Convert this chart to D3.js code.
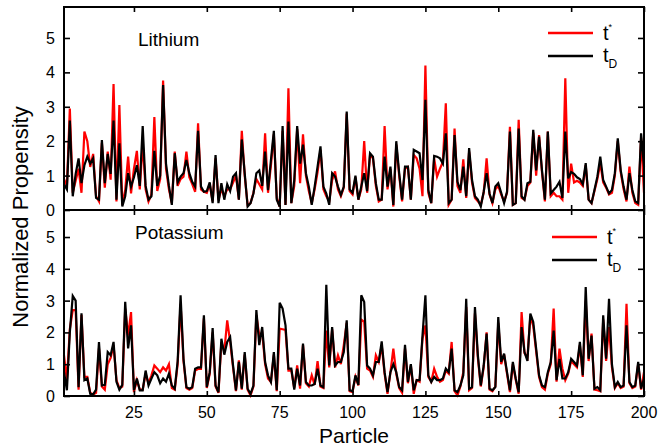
<!DOCTYPE html>
<html>
<head>
<meta charset="utf-8">
<script src="https://cdn.jsdelivr.net/npm/d3@7"></script>
<style>
  body { margin: 0; background: #fff; }
  text { font-family: "Liberation Sans", Arial, sans-serif; fill: #000; }
</style>
</head>
<body>
<div id="chart"></div>
<script>
const width = 667;
const height = 448;

// Lithium (top panel)
const liTD = [
  0.75, 0.6, 2.6, 0.4, 1.05, 1.5, 0.78, 1.3, 1.55, 1.35,
  1.5, 0.35, 0.3, 2.03, 0.78, 1.63, 1.05, 2.6, 0.3, 1.94,
  0.1, 0.4, 1.07, 0.68, 0.95, 1.3, 0.7, 2.44, 0.7, 0.3,
  0.4, 1.72, 0.7, 1.0, 3.63, 1.35, 0.7, 0.15, 1.65, 0.8,
  0.97, 1.07, 1.45, 1.07, 0.82, 0.68, 2.3, 0.68, 0.53, 0.55,
  0.8, 0.2, 1.6, 0.2, 0.78, 0.3, 0.75, 0.55, 0.97, 1.07,
  0.3, 2.05, 1.07, 0.1, 0.2, 0.48, 1.07, 1.15, 0.7, 1.7,
  0.58, 1.45, 2.3, 0.3, 0.1, 2.44, 0.15, 2.57, 0.2, 0.87,
  2.44, 1.35, 1.9, 1.07, 0.68, 0.15, 0.68, 1.26, 1.85, 0.68,
  0.48, 0.15, 1.07, 0.97, 0.68, 0.44, 0.68, 2.86, 0.6, 0.5,
  1.0, 0.3, 0.68, 1.07, 0.55, 1.65, 1.55, 0.78, 0.3, 0.3,
  1.55, 0.68, 1.26, 0.15, 2.0, 1.07, 0.3, 1.26, 1.26, 0.3,
  1.75, 1.7, 1.65, 0.87, 3.2, 0.58, 0.2, 1.57, 1.55, 1.5,
  1.35, 2.23, 0.2, 0.3, 2.18, 0.82, 0.58, 1.26, 0.4, 1.8,
  0.87, 0.4, 0.3, 0.1, 0.53, 1.07, 0.48, 0.2, 0.68, 0.78,
  0.5, 0.2, 0.53, 2.28, 0.15, 0.2, 2.37, 0.4, 0.3, 0.78,
  0.82, 2.33, 1.15, 2.13, 1.15, 0.3, 2.28, 0.48, 0.58, 0.68,
  0.82, 0.35, 2.28, 0.92, 1.1, 1.05, 0.95, 0.9, 0.75, 1.36,
  0.3, 0.2, 0.58, 0.97, 1.55, 0.87, 0.68, 0.48, 0.58, 1.07,
  2.08, 1.16, 0.68, 0.3, 1.07, 0.58, 0.25, 0.2, 2.23, 1.26
];
const liTStar = [
  0.9, 0.7, 2.95, 0.5, 0.85, 1.2, 0.5, 2.28, 2.0, 1.25,
  1.63, 0.4, 0.25, 1.95, 0.65, 1.7, 0.88, 3.66, 0.25, 3.05,
  0.15, 0.58, 1.55, 0.48, 1.2, 1.72, 0.6, 1.95, 0.6, 0.25,
  0.45, 2.7, 0.55, 0.9, 3.76, 1.2, 0.6, 0.2, 1.7, 0.7,
  0.9, 0.97, 1.7, 0.95, 0.75, 0.53, 2.52, 0.6, 0.53, 0.5,
  0.75, 0.25, 1.5, 0.3, 0.6, 0.4, 0.6, 0.6, 0.8, 1.0,
  0.3, 2.3, 1.0, 0.15, 0.2, 0.5, 0.9, 0.75, 0.6, 2.23,
  0.5, 1.3, 2.2, 0.35, 0.1, 2.3, 0.15, 3.54, 0.2, 0.7,
  2.35, 0.78, 2.2, 1.0, 0.55, 0.2, 0.6, 1.1, 1.75, 0.6,
  0.4, 0.25, 0.87, 1.12, 0.6, 0.4, 0.65, 2.8, 0.55, 0.45,
  0.95, 0.3, 0.6, 2.0, 0.5, 1.6, 1.5, 0.7, 0.25, 0.3,
  2.44, 0.6, 1.2, 0.1, 1.9, 1.0, 0.25, 1.2, 1.25, 0.3,
  1.6, 1.5, 1.2, 0.4, 4.2, 0.5, 0.2, 1.5, 0.97, 1.2,
  1.4, 3.1, 0.15, 0.3, 2.37, 0.7, 0.5, 1.47, 0.35, 1.7,
  0.8, 0.35, 0.25, 0.15, 0.5, 1.5, 0.45, 0.2, 0.6, 0.7,
  0.45, 0.25, 0.5, 2.42, 0.15, 0.2, 2.62, 0.35, 0.3, 0.7,
  0.8, 2.25, 1.0, 2.18, 1.1, 0.25, 2.28, 0.4, 0.5, 0.4,
  0.4, 0.3, 3.83, 0.5, 1.35, 0.8, 0.85, 0.8, 0.7, 1.3,
  0.3, 0.2, 0.55, 0.9, 1.36, 0.8, 0.65, 0.45, 0.5, 1.0,
  2.0, 1.1, 0.6, 0.25, 1.26, 0.5, 0.2, 0.15, 2.1, 0.5
];

// Potassium (bottom panel)
const kTD = [
  0.75, 0.18, 2.0, 3.15, 3.0, 0.28, 2.6, 0.5, 0.55, 0.07,
  0.05, 0.2, 1.7, 0.33, 0.35, 1.38, 1.28, 1.7, 0.45, 0.2,
  0.35, 2.96, 1.5, 2.22, 0.18, 0.55, 0.18, 0.18, 0.8, 0.33,
  0.55, 0.75, 0.65, 0.4, 0.55, 0.45, 0.7, 0.33, 0.23, 1.1,
  3.17, 1.17, 0.28, 0.23, 0.28, 0.86, 0.9, 0.9, 2.54, 0.28,
  0.75, 2.14, 0.33, 0.12, 1.8, 1.3, 1.7, 1.85, 0.96, 0.18,
  1.07, 0.23, 1.38, 0.23, 0.07, 0.33, 2.7, 1.6, 2.17, 1.07,
  0.65, 0.44, 1.38, 0.18, 2.93, 2.75, 2.22, 0.86, 0.86, 0.2,
  0.86, 0.33, 1.65, 0.44, 0.33, 0.33, 0.38, 0.86, 0.33, 0.28,
  3.5, 0.96, 2.17, 0.96, 1.07, 1.07, 1.38, 2.38, 0.18, 0.15,
  0.65, 0.35, 3.17, 2.96, 0.96, 0.86, 0.65, 1.07, 1.07, 1.72,
  0.75, 0.12, 0.75, 1.0, 0.75, 0.28, 0.18, 1.61, 0.44, 1.0,
  0.18, 0.5, 0.5, 1.9, 3.17, 0.65, 0.44, 0.6, 0.5, 0.5,
  0.55, 0.86, 0.75, 1.49, 0.18, 0.12, 0.33, 0.65, 3.06, 0.23,
  0.28, 2.8, 1.28, 0.33, 0.96, 1.96, 0.23, 0.18, 0.28, 2.48,
  1.07, 1.33, 0.75, 0.18, 1.07, 0.55, 0.12, 2.17, 1.38, 1.1,
  2.59, 2.33, 1.49, 0.65, 0.33, 0.28, 0.75, 1.07, 2.06, 0.5,
  1.17, 0.55, 0.55, 0.75, 1.17, 1.07, 0.96, 1.7, 0.65, 3.43,
  1.17, 1.9, 0.23, 0.28, 0.18, 2.54, 1.17, 3.06, 1.0, 0.28,
  0.44, 0.28, 0.33, 2.22, 0.44, 0.28, 0.33, 1.07, 0.23, 0.55
];
const kTStar = [
  1.28, 0.5, 2.1, 2.7, 2.7, 0.2, 2.55, 0.6, 0.6, 0.1,
  0.05, 0.1, 1.5, 0.3, 0.2, 1.0, 1.2, 1.6, 0.5, 0.25,
  0.3, 2.75, 1.9, 2.64, 0.12, 0.5, 0.2, 0.2, 0.7, 0.4,
  0.65, 0.96, 0.86, 0.75, 0.9, 0.8, 1.0, 0.25, 0.2, 1.0,
  2.9, 1.1, 0.25, 0.2, 0.25, 0.8, 0.85, 0.85, 2.44, 0.25,
  0.7, 2.0, 0.3, 0.1, 1.7, 1.4, 2.38, 1.7, 0.9, 0.15,
  1.12, 0.2, 1.3, 0.2, 0.02, 0.3, 2.54, 1.9, 2.0, 1.0,
  0.55, 0.44, 1.3, 0.15, 2.12, 2.1, 2.08, 0.8, 0.8, 0.25,
  0.96, 0.23, 1.6, 0.4, 0.3, 0.65, 0.35, 1.1, 0.3, 0.25,
  2.06, 0.9, 2.1, 0.9, 1.28, 1.0, 1.6, 2.3, 0.15, 0.12,
  0.6, 0.33, 2.4, 2.33, 0.86, 0.8, 0.6, 1.28, 1.07, 1.6,
  0.7, 0.07, 0.75, 1.49, 0.7, 0.25, 0.1, 1.5, 0.4, 0.96,
  0.07, 0.5, 0.45, 1.8, 2.22, 0.6, 0.45, 0.86, 0.6, 0.45,
  0.5, 0.8, 0.7, 1.7, 0.15, 0.02, 0.3, 0.75, 2.8, 0.18,
  0.25, 2.6, 1.2, 0.3, 0.9, 2.0, 0.2, 0.15, 0.3, 2.3,
  1.0, 1.3, 0.7, 0.12, 1.0, 0.5, 0.07, 2.64, 1.35, 1.2,
  2.5, 2.2, 1.4, 0.6, 0.28, 0.2, 0.7, 1.0, 2.75, 0.45,
  1.49, 0.86, 0.5, 0.7, 1.1, 1.0, 0.9, 1.6, 0.6, 3.0,
  1.1, 1.96, 0.2, 0.18, 0.15, 2.4, 1.1, 2.17, 0.9, 0.25,
  0.4, 0.25, 0.3, 2.9, 0.4, 0.25, 0.3, 1.0, 0.2, 0.75
];

const xTicks = [25, 50, 75, 100, 125, 150, 175, 200];
const yTicks = [0, 1, 2, 3, 4, 5];

const svg = d3
  .select("#chart")
  .append("svg")
  .attr("width", width)
  .attr("height", height);

const x = d3.scaleLinear().domain([1, 200]).range([64, 644]);

const panels = [
  { name: "Lithium", red: liTStar, black: liTD, y: d3.scaleLinear().domain([0, 5.9]).range([210, 7]), label: [138, 46], legend: [548, 33] },
  { name: "Potassium", red: kTStar, black: kTD, y: d3.scaleLinear().domain([0, 5.85]).range([396, 210]), label: [135, 239], legend: [552, 237] },
];

panels.forEach((p) => {
  const g = svg.append("g");
  const [y0, y1] = p.y.range();

  const line = d3
    .line()
    .x((d, i) => x(i + 1))
    .y((d) => p.y(d));

  g.append("path")
    .datum(p.red)
    .attr("fill", "none")
    .attr("stroke", "#ff0000")
    .attr("stroke-width", 2.2)
    .attr("d", line);

  g.append("path")
    .datum(p.black)
    .attr("fill", "none")
    .attr("stroke", "#000")
    .attr("stroke-width", 2.2)
    .attr("d", line);

  // inward ticks on all four sides
  g.append("g")
    .attr("transform", `translate(0,${y0})`)
    .call(d3.axisTop(x).tickValues(xTicks).tickSize(5).tickFormat(""))
    .call((a) => a.select(".domain").remove());
  g.append("g")
    .attr("transform", `translate(0,${y1})`)
    .call(d3.axisBottom(x).tickValues(xTicks).tickSize(5).tickFormat(""))
    .call((a) => a.select(".domain").remove());
  g.append("g")
    .attr("transform", `translate(${x.range()[0]},0)`)
    .call(d3.axisRight(p.y).tickValues(yTicks).tickSize(6).tickFormat(""))
    .call((a) => a.select(".domain").remove());
  g.append("g")
    .attr("transform", `translate(${x.range()[1]},0)`)
    .call(d3.axisLeft(p.y).tickValues(yTicks).tickSize(6).tickFormat(""))
    .call((a) => a.select(".domain").remove());
  g.selectAll(".tick line").attr("stroke", "#000").attr("stroke-width", 1.6);

  // y labels
  g.selectAll(".ylab")
    .data(yTicks)
    .enter()
    .append("text")
    .attr("x", 55)
    .attr("y", (d) => p.y(d) + 6)
    .attr("text-anchor", "end")
    .style("font-size", "16px")
    .text((d) => d);

  g.append("rect")
    .attr("x", x.range()[0])
    .attr("y", y1)
    .attr("width", x.range()[1] - x.range()[0])
    .attr("height", y0 - y1)
    .attr("fill", "none")
    .attr("stroke", "#000")
    .attr("stroke-width", 2);

  g.append("text")
    .attr("x", p.label[0])
    .attr("y", p.label[1])
    .style("font-size", "19px")
    .text(p.name);

  // legend
  const [lx, ly] = p.legend;
  g.append("line")
    .attr("x1", lx).attr("x2", lx + 45)
    .attr("y1", ly).attr("y2", ly)
    .attr("stroke", "#ff0000").attr("stroke-width", 2.5);
  g.append("line")
    .attr("x1", lx).attr("x2", lx + 45)
    .attr("y1", ly + 23).attr("y2", ly + 23)
    .attr("stroke", "#000").attr("stroke-width", 2.5);
  const t1 = g.append("text").attr("x", lx + 55).attr("y", ly + 7).style("font-size", "20px");
  t1.append("tspan").text("t");
  t1.append("tspan").attr("dy", -10).style("font-size", "9px").text("*");
  const t2 = g.append("text").attr("x", lx + 55).attr("y", ly + 29).style("font-size", "20px");
  t2.append("tspan").text("t");
  t2.append("tspan").attr("dy", 6).style("font-size", "12px").text("D");
});

// x labels
svg.selectAll(".xlab")
  .data(xTicks)
  .enter()
  .append("text")
  .attr("x", (d) => x(d))
  .attr("y", 418)
  .attr("text-anchor", "middle")
  .style("font-size", "16px")
  .text((d) => d);

svg.append("text")
  .attr("x", x(100.5))
  .attr("y", 443)
  .attr("text-anchor", "middle")
  .style("font-size", "21px")
  .text("Particle");

svg.append("text")
  .attr("transform", "translate(28,217) rotate(-90)")
  .attr("text-anchor", "middle")
  .style("font-size", "22px")
  .text("Normalized Propensity");
</script>
</body>
</html>
